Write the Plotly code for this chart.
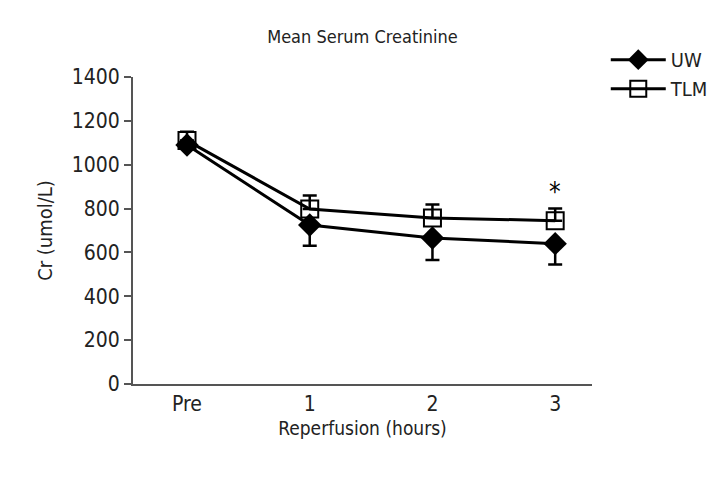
import plotly.graph_objects as go

x_pos = [0, 1, 2, 3]
x_labels = ["Pre", "1", "2", "3"]
uw_mean = [1090, 725, 666, 640]
uw_err = [15, 95, 100, 95]
tlm_mean = [1110, 798, 757, 745]
tlm_err = [40, 62, 62, 55]

font = "DejaVu Sans Condensed, Liberation Sans Narrow, sans-serif"

fig = go.Figure()
fig.add_trace(go.Scatter(
    x=x_pos, y=uw_mean, name="UW", mode="lines+markers",
    line=dict(color="black", width=3),
    marker=dict(symbol="diamond", size=18, color="black"),
    error_y=dict(type="data", symmetric=False, array=[0] * 4, arrayminus=uw_err,
                 color="black", thickness=2.5, width=7),
))
fig.add_trace(go.Scatter(
    x=x_pos, y=tlm_mean, name="TLM", mode="lines+markers",
    line=dict(color="black", width=3),
    marker=dict(symbol="square-open", size=17, color="black", line=dict(width=2)),
    error_y=dict(type="data", symmetric=False, array=tlm_err, arrayminus=[0] * 4,
                 color="black", thickness=2.5, width=7),
))

fig.add_annotation(x=3, y=tlm_mean[3] + tlm_err[3] + 75, text="*", showarrow=False,
                   font=dict(size=26, color="black", family=font))

# page body adds a small offset, margins compensate
fig.update_layout(
    width=720, height=491,
    paper_bgcolor="white", plot_bgcolor="white",
    margin=dict(l=125, r=136, t=69, b=115, autoexpand=False),
    font=dict(family=font, size=21, color="#222"),
    title=dict(text="Mean Serum Creatinine", xref="paper", x=0.5, xanchor="center",
               yref="container", y=0.955, font=dict(size=18)),
    legend=dict(x=1.03, y=1.12, xanchor="left", yanchor="top",
                font=dict(size=20), itemwidth=55, tracegroupgap=0),
    showlegend=True,
)
fig.update_xaxes(
    range=[-0.44, 3.3], tickvals=x_pos, ticktext=x_labels,
    showline=True, linecolor="#555", linewidth=2, ticks="",
    showgrid=False, zeroline=False,
    title=dict(text="Reperfusion (hours)", standoff=6, font=dict(size=19)),
)
fig.update_yaxes(
    range=[0, 1400], dtick=200, showline=True, linecolor="#555", linewidth=2,
    ticks="outside", ticklen=7, tickcolor="#555", tickwidth=2,
    showgrid=False, zeroline=False,
    title=dict(text="Cr (umol/L)", standoff=14, font=dict(size=20)),
)

fig.write_html("out.html")
